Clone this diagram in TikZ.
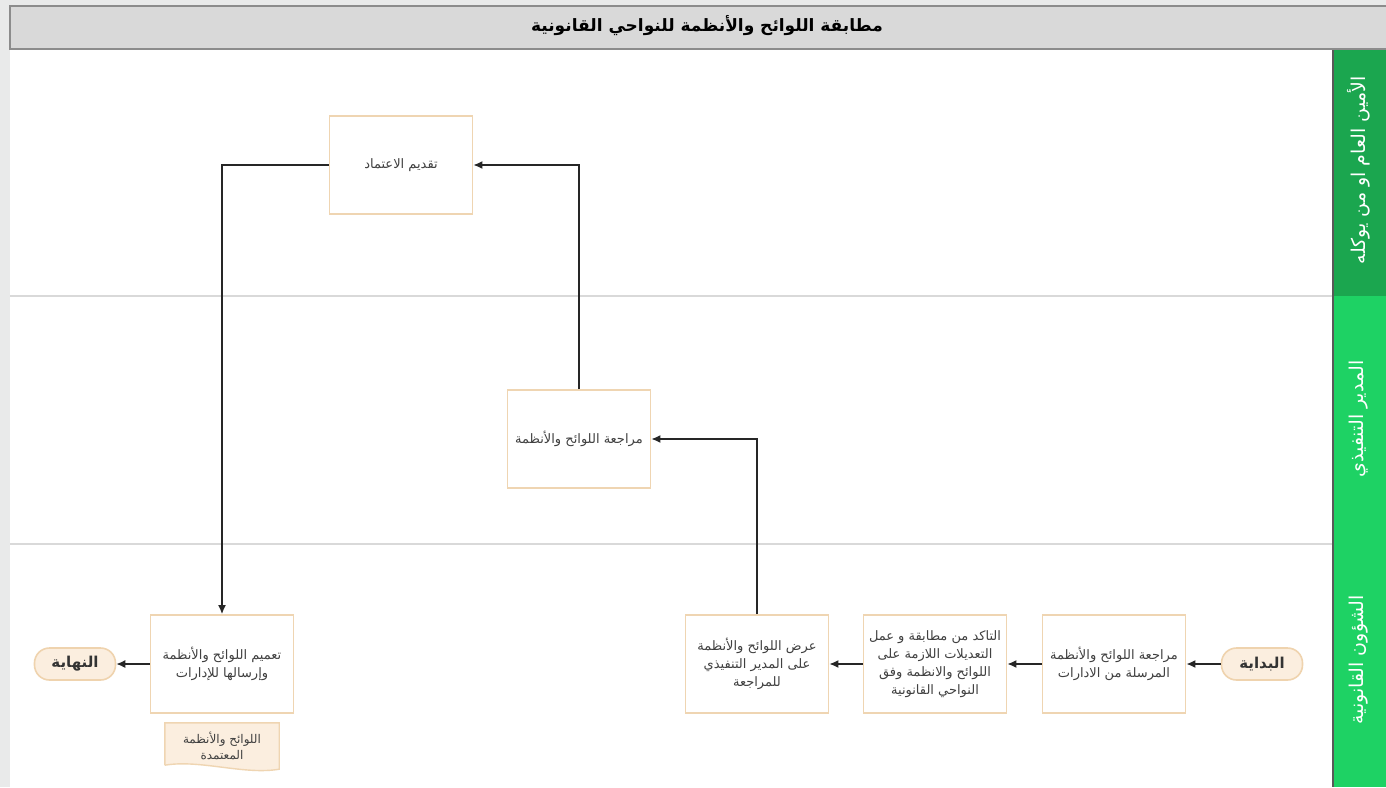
\documentclass[tikz,border=0pt]{standalone}
\usepackage{fontspec}
\usepackage{tikz}
\usetikzlibrary{arrows.meta}
\TeXXeTstate=1
\newfontfamily\arabicfont[Script=Arabic]{DejaVu Sans}
\definecolor{pagegray}{HTML}{E9EAEA}
\definecolor{headgray}{HTML}{D9D9D9}
\definecolor{lanedark}{HTML}{1BA64F}
\definecolor{lanelight}{HTML}{1ED264}
\definecolor{boxline}{HTML}{EFD5B2}
\definecolor{termfill}{HTML}{FBEEDF}
\definecolor{termline}{HTML}{EFD3AE}

\begin{document}
\begin{tikzpicture}[x=1pt,y=-1pt,
  task/.style={draw=boxline,line width=1.8pt,fill=white,minimum width=143pt,minimum height=98pt,align=center,font=\arabicfont\fontsize{13}{18}\selectfont,text=black!75},
  term/.style={draw=termline,line width=1.6pt,fill=termfill,rounded corners=15pt,minimum width=81pt,minimum height=32pt,font=\arabicfont\bfseries\fontsize{15}{17}\selectfont,text=black!80},
  docbox/.style={minimum width=114pt,minimum height=42pt,align=center,font=\arabicfont\fontsize{12}{16}\selectfont,text=black!75},
  lane/.style={rotate=90,text=white,font=\arabicfont\fontsize{19}{22}\selectfont},
  flow/.style={-{Latex[length=9pt,width=8pt]},line width=1.4pt,black!85}]
\useasboundingbox (0,0) rectangle (1386,787);
% background and lanes
\fill[pagegray] (0,0) rectangle (1386,787);
\fill[white] (10,49) rectangle (1333,787);
\draw[black!15,line width=1.2pt] (10,296) -- (1333,296);
\draw[black!15,line width=1.2pt] (10,544) -- (1333,544);
\fill[lanedark] (1333,49) rectangle (1386,296);
\fill[lanelight] (1333,296) rectangle (1386,787);
\draw[black!65,line width=1.5pt] (1333,49) -- (1333,787);
\draw[black!45,fill=headgray,line width=1.4pt] (10,6) rectangle (1390,49);
\node (title) at (707,26) {\arabicfont\bfseries\fontsize{17}{20}\selectfont\beginR مطابقة اللوائح والأنظمة للنواحي القانونية\endR};
\node[lane] (l1) at (1359,170) {\beginR الأمين العام او من يوكله\endR};
\node[lane] (l2) at (1359,419) {\beginR المدير التنفيذي\endR};
\node[lane] (l3) at (1359,660) {\beginR الشؤون القانونية\endR};
% steps
\node[term] (a0) at (1262,664) {\beginR البداية\endR};
\node[task] (a1) at (1114,664) {\beginR مراجعة اللوائح والأنظمة\endR\\\beginR المرسلة من الادارات\endR};
\node[task] (a2) at (935,664) {\beginR التاكد من مطابقة و عمل\endR\\\beginR التعديلات اللازمة على\endR\\\beginR اللوائح والانظمة وفق\endR\\\beginR النواحي القانونية\endR};
\node[task] (a3) at (757,664) {\beginR عرض اللوائح والأنظمة\endR\\\beginR على المدير التنفيذي\endR\\\beginR للمراجعة\endR};
\node[task] (a4) at (579,439) {\beginR مراجعة اللوائح والأنظمة\endR};
\node[task] (a5) at (401,165) {\beginR تقديم الاعتماد\endR};
\node[task] (a6) at (222,664) {\beginR تعميم اللوائح والأنظمة\endR\\\beginR وإرسالها للإدارات\endR};
\node[term] (a7) at (75,664) {\beginR النهاية\endR};
% document
\node[docbox] (d0) at (222,744) {};
\draw[boxline,fill=termfill,line width=1.4pt] (d0.south west) -- (d0.north west) -- (d0.north east) -- ([yshift=-4pt]d0.south east) .. controls ([xshift=-35pt,yshift=-10pt]d0.south east) and ([xshift=35pt,yshift=6pt]d0.south west) .. (d0.south west);
\node[docbox] (d1) at ([yshift=-2pt]d0) {\beginR اللوائح والأنظمة\endR\\\beginR المعتمدة\endR};
% connectors
\draw[flow] (a0) -- (a1);
\draw[flow] (a1) -- (a2);
\draw[flow] (a2) -- (a3);
\draw[flow] (a3.north) |- (a4.east);
\draw[flow] (a4.north) |- (a5.east);
\draw[flow] (a5.west) -| (a6.north);
\draw[flow] (a6) -- (a7);
\end{tikzpicture}
\end{document}
